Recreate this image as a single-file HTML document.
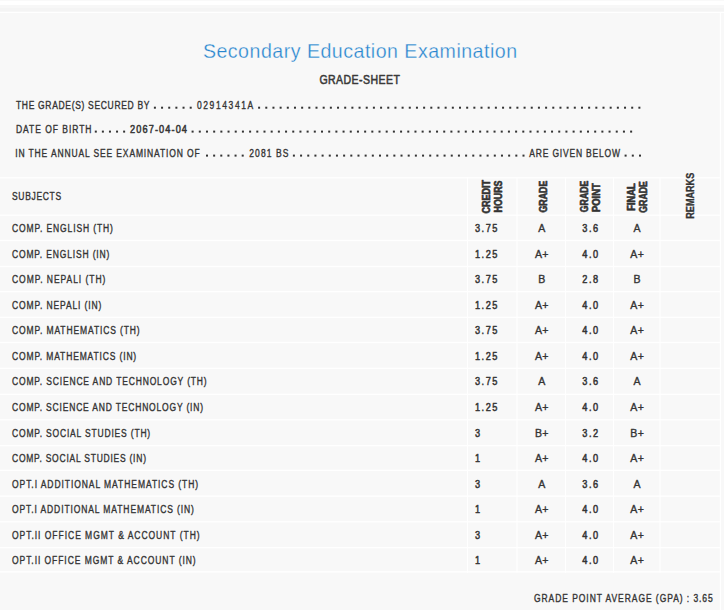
<!DOCTYPE html>
<html><head><meta charset="utf-8"><style>
html,body{margin:0;padding:0;background:#fff;}
body{width:724px;height:610px;overflow:hidden;position:relative;}
svg{position:absolute;left:0;top:0;display:block;}
text{font-family:"Liberation Sans",sans-serif;stroke-linejoin:round;}
.t{stroke:currentColor;}
</style></head><body>
<svg width="724" height="610" viewBox="0 0 724 610">
<rect x="0" y="0" width="724" height="610" fill="#ffffff"/>
<rect x="0" y="0" width="724" height="1" fill="#f9f9f9"/>
<rect x="0" y="5" width="724" height="7" fill="#f7f7f7"/>
<rect x="0" y="8" width="724" height="3" fill="#f4f4f4"/>
<rect x="0" y="13" width="724" height="597" fill="#f8f8f8"/>
<g fill="#ffffff"><rect x="0" y="177.15" width="721" height="1.3"/><rect x="0" y="214.55" width="721" height="1.3"/><rect x="0" y="239.85" width="721" height="1.3"/><rect x="0" y="265.85" width="721" height="1.3"/><rect x="0" y="290.95" width="721" height="1.3"/><rect x="0" y="316.65" width="721" height="1.3"/><rect x="0" y="341.85" width="721" height="1.3"/><rect x="0" y="367.65" width="721" height="1.3"/><rect x="0" y="393.65" width="721" height="1.3"/><rect x="0" y="419.15" width="721" height="1.3"/><rect x="0" y="444.95" width="721" height="1.3"/><rect x="0" y="469.65" width="721" height="1.3"/><rect x="0" y="495.45" width="721" height="1.3"/><rect x="0" y="521.15" width="721" height="1.3"/><rect x="0" y="546.95" width="721" height="1.3"/><rect x="0" y="571.25" width="721" height="1.3"/><rect x="719.8" y="12" width="1.2" height="598"/><rect x="467.10" y="177.1" width="1.0" height="395.80"/><rect x="516.50" y="177.1" width="1.0" height="395.80"/><rect x="565.00" y="177.1" width="1.0" height="395.80"/><rect x="613.00" y="177.1" width="1.0" height="395.80"/><rect x="659.50" y="177.1" width="1.0" height="395.80"/></g>
<g fill="#333333"><rect x="153.90" y="106.70" width="2.0" height="2.0"/><rect x="161.06" y="106.70" width="2.0" height="2.0"/><rect x="168.22" y="106.70" width="2.0" height="2.0"/><rect x="175.38" y="106.70" width="2.0" height="2.0"/><rect x="182.54" y="106.70" width="2.0" height="2.0"/><rect x="189.70" y="106.70" width="2.0" height="2.0"/><rect x="258.10" y="106.70" width="2.0" height="2.0"/><rect x="265.28" y="106.70" width="2.0" height="2.0"/><rect x="272.45" y="106.70" width="2.0" height="2.0"/><rect x="279.62" y="106.70" width="2.0" height="2.0"/><rect x="286.80" y="106.70" width="2.0" height="2.0"/><rect x="293.98" y="106.70" width="2.0" height="2.0"/><rect x="301.15" y="106.70" width="2.0" height="2.0"/><rect x="308.33" y="106.70" width="2.0" height="2.0"/><rect x="315.50" y="106.70" width="2.0" height="2.0"/><rect x="322.68" y="106.70" width="2.0" height="2.0"/><rect x="329.85" y="106.70" width="2.0" height="2.0"/><rect x="337.03" y="106.70" width="2.0" height="2.0"/><rect x="344.20" y="106.70" width="2.0" height="2.0"/><rect x="351.38" y="106.70" width="2.0" height="2.0"/><rect x="358.55" y="106.70" width="2.0" height="2.0"/><rect x="365.73" y="106.70" width="2.0" height="2.0"/><rect x="372.90" y="106.70" width="2.0" height="2.0"/><rect x="380.08" y="106.70" width="2.0" height="2.0"/><rect x="387.25" y="106.70" width="2.0" height="2.0"/><rect x="394.43" y="106.70" width="2.0" height="2.0"/><rect x="401.60" y="106.70" width="2.0" height="2.0"/><rect x="408.77" y="106.70" width="2.0" height="2.0"/><rect x="415.95" y="106.70" width="2.0" height="2.0"/><rect x="423.12" y="106.70" width="2.0" height="2.0"/><rect x="430.30" y="106.70" width="2.0" height="2.0"/><rect x="437.48" y="106.70" width="2.0" height="2.0"/><rect x="444.65" y="106.70" width="2.0" height="2.0"/><rect x="451.83" y="106.70" width="2.0" height="2.0"/><rect x="459.00" y="106.70" width="2.0" height="2.0"/><rect x="466.18" y="106.70" width="2.0" height="2.0"/><rect x="473.35" y="106.70" width="2.0" height="2.0"/><rect x="480.52" y="106.70" width="2.0" height="2.0"/><rect x="487.70" y="106.70" width="2.0" height="2.0"/><rect x="494.88" y="106.70" width="2.0" height="2.0"/><rect x="502.05" y="106.70" width="2.0" height="2.0"/><rect x="509.23" y="106.70" width="2.0" height="2.0"/><rect x="516.40" y="106.70" width="2.0" height="2.0"/><rect x="523.58" y="106.70" width="2.0" height="2.0"/><rect x="530.75" y="106.70" width="2.0" height="2.0"/><rect x="537.92" y="106.70" width="2.0" height="2.0"/><rect x="545.10" y="106.70" width="2.0" height="2.0"/><rect x="552.28" y="106.70" width="2.0" height="2.0"/><rect x="559.45" y="106.70" width="2.0" height="2.0"/><rect x="566.62" y="106.70" width="2.0" height="2.0"/><rect x="573.80" y="106.70" width="2.0" height="2.0"/><rect x="580.98" y="106.70" width="2.0" height="2.0"/><rect x="588.15" y="106.70" width="2.0" height="2.0"/><rect x="595.33" y="106.70" width="2.0" height="2.0"/><rect x="602.50" y="106.70" width="2.0" height="2.0"/><rect x="609.67" y="106.70" width="2.0" height="2.0"/><rect x="616.85" y="106.70" width="2.0" height="2.0"/><rect x="624.03" y="106.70" width="2.0" height="2.0"/><rect x="631.20" y="106.70" width="2.0" height="2.0"/><rect x="638.38" y="106.70" width="2.0" height="2.0"/><rect x="94.80" y="130.60" width="2.0" height="2.0"/><rect x="101.88" y="130.60" width="2.0" height="2.0"/><rect x="108.96" y="130.60" width="2.0" height="2.0"/><rect x="116.04" y="130.60" width="2.0" height="2.0"/><rect x="123.12" y="130.60" width="2.0" height="2.0"/><rect x="191.60" y="130.60" width="2.0" height="2.0"/><rect x="198.79" y="130.60" width="2.0" height="2.0"/><rect x="205.98" y="130.60" width="2.0" height="2.0"/><rect x="213.17" y="130.60" width="2.0" height="2.0"/><rect x="220.36" y="130.60" width="2.0" height="2.0"/><rect x="227.54" y="130.60" width="2.0" height="2.0"/><rect x="234.73" y="130.60" width="2.0" height="2.0"/><rect x="241.92" y="130.60" width="2.0" height="2.0"/><rect x="249.11" y="130.60" width="2.0" height="2.0"/><rect x="256.30" y="130.60" width="2.0" height="2.0"/><rect x="263.49" y="130.60" width="2.0" height="2.0"/><rect x="270.68" y="130.60" width="2.0" height="2.0"/><rect x="277.87" y="130.60" width="2.0" height="2.0"/><rect x="285.06" y="130.60" width="2.0" height="2.0"/><rect x="292.25" y="130.60" width="2.0" height="2.0"/><rect x="299.44" y="130.60" width="2.0" height="2.0"/><rect x="306.62" y="130.60" width="2.0" height="2.0"/><rect x="313.81" y="130.60" width="2.0" height="2.0"/><rect x="321.00" y="130.60" width="2.0" height="2.0"/><rect x="328.19" y="130.60" width="2.0" height="2.0"/><rect x="335.38" y="130.60" width="2.0" height="2.0"/><rect x="342.57" y="130.60" width="2.0" height="2.0"/><rect x="349.76" y="130.60" width="2.0" height="2.0"/><rect x="356.95" y="130.60" width="2.0" height="2.0"/><rect x="364.14" y="130.60" width="2.0" height="2.0"/><rect x="371.32" y="130.60" width="2.0" height="2.0"/><rect x="378.51" y="130.60" width="2.0" height="2.0"/><rect x="385.70" y="130.60" width="2.0" height="2.0"/><rect x="392.89" y="130.60" width="2.0" height="2.0"/><rect x="400.08" y="130.60" width="2.0" height="2.0"/><rect x="407.27" y="130.60" width="2.0" height="2.0"/><rect x="414.46" y="130.60" width="2.0" height="2.0"/><rect x="421.65" y="130.60" width="2.0" height="2.0"/><rect x="428.84" y="130.60" width="2.0" height="2.0"/><rect x="436.03" y="130.60" width="2.0" height="2.0"/><rect x="443.22" y="130.60" width="2.0" height="2.0"/><rect x="450.40" y="130.60" width="2.0" height="2.0"/><rect x="457.59" y="130.60" width="2.0" height="2.0"/><rect x="464.78" y="130.60" width="2.0" height="2.0"/><rect x="471.97" y="130.60" width="2.0" height="2.0"/><rect x="479.16" y="130.60" width="2.0" height="2.0"/><rect x="486.35" y="130.60" width="2.0" height="2.0"/><rect x="493.54" y="130.60" width="2.0" height="2.0"/><rect x="500.73" y="130.60" width="2.0" height="2.0"/><rect x="507.92" y="130.60" width="2.0" height="2.0"/><rect x="515.11" y="130.60" width="2.0" height="2.0"/><rect x="522.29" y="130.60" width="2.0" height="2.0"/><rect x="529.48" y="130.60" width="2.0" height="2.0"/><rect x="536.67" y="130.60" width="2.0" height="2.0"/><rect x="543.86" y="130.60" width="2.0" height="2.0"/><rect x="551.05" y="130.60" width="2.0" height="2.0"/><rect x="558.24" y="130.60" width="2.0" height="2.0"/><rect x="565.43" y="130.60" width="2.0" height="2.0"/><rect x="572.62" y="130.60" width="2.0" height="2.0"/><rect x="579.81" y="130.60" width="2.0" height="2.0"/><rect x="587.00" y="130.60" width="2.0" height="2.0"/><rect x="594.18" y="130.60" width="2.0" height="2.0"/><rect x="601.37" y="130.60" width="2.0" height="2.0"/><rect x="608.56" y="130.60" width="2.0" height="2.0"/><rect x="615.75" y="130.60" width="2.0" height="2.0"/><rect x="622.94" y="130.60" width="2.0" height="2.0"/><rect x="630.13" y="130.60" width="2.0" height="2.0"/><rect x="206.00" y="154.60" width="2.0" height="2.0"/><rect x="213.14" y="154.60" width="2.0" height="2.0"/><rect x="220.28" y="154.60" width="2.0" height="2.0"/><rect x="227.42" y="154.60" width="2.0" height="2.0"/><rect x="234.56" y="154.60" width="2.0" height="2.0"/><rect x="241.70" y="154.60" width="2.0" height="2.0"/><rect x="292.90" y="154.60" width="2.0" height="2.0"/><rect x="300.07" y="154.60" width="2.0" height="2.0"/><rect x="307.25" y="154.60" width="2.0" height="2.0"/><rect x="314.42" y="154.60" width="2.0" height="2.0"/><rect x="321.60" y="154.60" width="2.0" height="2.0"/><rect x="328.77" y="154.60" width="2.0" height="2.0"/><rect x="335.95" y="154.60" width="2.0" height="2.0"/><rect x="343.12" y="154.60" width="2.0" height="2.0"/><rect x="350.30" y="154.60" width="2.0" height="2.0"/><rect x="357.47" y="154.60" width="2.0" height="2.0"/><rect x="364.65" y="154.60" width="2.0" height="2.0"/><rect x="371.82" y="154.60" width="2.0" height="2.0"/><rect x="379.00" y="154.60" width="2.0" height="2.0"/><rect x="386.17" y="154.60" width="2.0" height="2.0"/><rect x="393.35" y="154.60" width="2.0" height="2.0"/><rect x="400.52" y="154.60" width="2.0" height="2.0"/><rect x="407.70" y="154.60" width="2.0" height="2.0"/><rect x="414.88" y="154.60" width="2.0" height="2.0"/><rect x="422.05" y="154.60" width="2.0" height="2.0"/><rect x="429.22" y="154.60" width="2.0" height="2.0"/><rect x="436.40" y="154.60" width="2.0" height="2.0"/><rect x="443.57" y="154.60" width="2.0" height="2.0"/><rect x="450.75" y="154.60" width="2.0" height="2.0"/><rect x="457.92" y="154.60" width="2.0" height="2.0"/><rect x="465.10" y="154.60" width="2.0" height="2.0"/><rect x="472.27" y="154.60" width="2.0" height="2.0"/><rect x="479.45" y="154.60" width="2.0" height="2.0"/><rect x="486.62" y="154.60" width="2.0" height="2.0"/><rect x="493.80" y="154.60" width="2.0" height="2.0"/><rect x="500.97" y="154.60" width="2.0" height="2.0"/><rect x="508.15" y="154.60" width="2.0" height="2.0"/><rect x="515.32" y="154.60" width="2.0" height="2.0"/><rect x="522.50" y="154.60" width="2.0" height="2.0"/><rect x="624.60" y="154.60" width="2.0" height="2.0"/><rect x="631.80" y="154.60" width="2.0" height="2.0"/><rect x="639.00" y="154.60" width="2.0" height="2.0"/></g>
<text transform="translate(202.90 57.90) scale(0.98 1)" letter-spacing="0.496" font-size="20" font-weight="normal" fill="#2886cf" stroke="#f8f8f8" stroke-width="0.3">Secondary Education Examination</text>
<text transform="translate(319.40 83.90) scale(0.78 1)" letter-spacing="0.581" font-size="13.5" font-weight="normal" fill="#3a3a3a" stroke="#3a3a3a" stroke-width="0.6">GRADE-SHEET</text>
<text transform="translate(15.95 109.00) scale(0.74 1)" letter-spacing="0.917" font-size="11.5" font-weight="normal" fill="#353535" stroke="#353535" stroke-width="0.4">THE GRADE(S) SECURED BY</text>
<text transform="translate(196.90 109.00) scale(0.74 1)" letter-spacing="2.165" font-size="11.5" font-weight="normal" fill="#353535" stroke="#353535" stroke-width="0.4">02914341A</text>
<text transform="translate(15.95 132.90) scale(0.74 1)" letter-spacing="1.305" font-size="11.5" font-weight="normal" fill="#353535" stroke="#353535" stroke-width="0.4">DATE OF BIRTH</text>
<text transform="translate(130.10 132.90) scale(0.8 1)" letter-spacing="1.369" font-size="11.5" font-weight="normal" fill="#353535" stroke="#353535" stroke-width="0.55">2067-04-04</text>
<text transform="translate(15.21 156.90) scale(0.74 1)" letter-spacing="1.168" font-size="11.5" font-weight="normal" fill="#353535" stroke="#353535" stroke-width="0.4">IN THE ANNUAL SEE EXAMINATION OF</text>
<text transform="translate(249.30 156.90) scale(0.74 1)" letter-spacing="1.443" font-size="11.5" font-weight="normal" fill="#353535" stroke="#353535" stroke-width="0.4">2081 BS</text>
<text transform="translate(529.30 156.90) scale(0.74 1)" letter-spacing="1.095" font-size="11.5" font-weight="normal" fill="#353535" stroke="#353535" stroke-width="0.4">ARE GIVEN BELOW</text>
<text transform="translate(12.00 199.90) scale(0.74 1)" letter-spacing="0.909" font-size="11.5" font-weight="normal" fill="#353535" stroke="#353535" stroke-width="0.4">SUBJECTS</text>
<text transform="translate(489.80 213.50) rotate(-90)" x="0" y="0" textLength="33.60" lengthAdjust="spacingAndGlyphs" font-size="10.5" font-weight="bold" fill="#333" stroke="#333" stroke-width="0.6">CREDIT</text>
<text transform="translate(501.90 212.50) rotate(-90)" x="0" y="0" textLength="32.00" lengthAdjust="spacingAndGlyphs" font-size="10.5" font-weight="bold" fill="#333" stroke="#333" stroke-width="0.6">HOURS</text>
<text transform="translate(546.50 212.50) rotate(-90)" x="0" y="0" textLength="31.80" lengthAdjust="spacingAndGlyphs" font-size="10.5" font-weight="bold" fill="#333" stroke="#333" stroke-width="0.6">GRADE</text>
<text transform="translate(588.20 212.20) rotate(-90)" x="0" y="0" textLength="31.50" lengthAdjust="spacingAndGlyphs" font-size="10.5" font-weight="bold" fill="#333" stroke="#333" stroke-width="0.6">GRADE</text>
<text transform="translate(600.10 212.00) rotate(-90)" x="0" y="0" textLength="28.77" lengthAdjust="spacingAndGlyphs" font-size="10.5" font-weight="bold" fill="#333" stroke="#333" stroke-width="0.6">POINT</text>
<text transform="translate(634.75 210.75) rotate(-90)" x="0" y="0" textLength="27.33" lengthAdjust="spacingAndGlyphs" font-size="10.5" font-weight="bold" fill="#333" stroke="#333" stroke-width="0.6">FINAL</text>
<text transform="translate(646.90 212.70) rotate(-90)" x="0" y="0" textLength="31.50" lengthAdjust="spacingAndGlyphs" font-size="10.5" font-weight="bold" fill="#333" stroke="#333" stroke-width="0.6">GRADE</text>
<text transform="translate(693.80 218.70) rotate(-90)" x="0" y="0" textLength="45.90" lengthAdjust="spacingAndGlyphs" font-size="10.5" font-weight="bold" fill="#333" stroke="#333" stroke-width="0.35">REMARKS</text>
<text transform="translate(12.00 232.10) scale(0.74 1)" letter-spacing="1.198" font-size="11.5" font-weight="normal" fill="#353535" stroke="#353535" stroke-width="0.4">COMP. ENGLISH (TH)</text>
<text transform="translate(475.00 232.10) scale(0.8 1)" letter-spacing="1.879" font-size="11.5" font-weight="normal" fill="#353535" stroke="#353535" stroke-width="0.55">3.75</text>
<text transform="translate(538.22 232.10) scale(0.92 1)" letter-spacing="0.330" font-size="11.5" font-weight="normal" fill="#353535" stroke="#353535" stroke-width="0.4">A</text>
<text transform="translate(582.26 232.10) scale(0.8 1)" letter-spacing="1.879" font-size="11.5" font-weight="normal" fill="#353535" stroke="#353535" stroke-width="0.55">3.6</text>
<text transform="translate(633.52 232.10) scale(0.92 1)" letter-spacing="0.330" font-size="11.5" font-weight="normal" fill="#353535" stroke="#353535" stroke-width="0.4">A</text>
<text transform="translate(12.00 257.65) scale(0.74 1)" letter-spacing="1.138" font-size="11.5" font-weight="normal" fill="#353535" stroke="#353535" stroke-width="0.4">COMP. ENGLISH (IN)</text>
<text transform="translate(475.00 257.65) scale(0.8 1)" letter-spacing="1.879" font-size="11.5" font-weight="normal" fill="#353535" stroke="#353535" stroke-width="0.55">1.25</text>
<text transform="translate(535.00 257.65) scale(0.92 1)" letter-spacing="0.330" font-size="11.5" font-weight="normal" fill="#353535" stroke="#353535" stroke-width="0.4">A+</text>
<text transform="translate(582.26 257.65) scale(0.8 1)" letter-spacing="1.879" font-size="11.5" font-weight="normal" fill="#353535" stroke="#353535" stroke-width="0.55">4.0</text>
<text transform="translate(630.30 257.65) scale(0.92 1)" letter-spacing="0.330" font-size="11.5" font-weight="normal" fill="#353535" stroke="#353535" stroke-width="0.4">A+</text>
<text transform="translate(12.00 283.20) scale(0.74 1)" letter-spacing="1.283" font-size="11.5" font-weight="normal" fill="#353535" stroke="#353535" stroke-width="0.4">COMP. NEPALI (TH)</text>
<text transform="translate(475.00 283.20) scale(0.8 1)" letter-spacing="1.879" font-size="11.5" font-weight="normal" fill="#353535" stroke="#353535" stroke-width="0.55">3.75</text>
<text transform="translate(538.22 283.20) scale(0.92 1)" letter-spacing="0.330" font-size="11.5" font-weight="normal" fill="#353535" stroke="#353535" stroke-width="0.4">B</text>
<text transform="translate(582.26 283.20) scale(0.8 1)" letter-spacing="1.879" font-size="11.5" font-weight="normal" fill="#353535" stroke="#353535" stroke-width="0.55">2.8</text>
<text transform="translate(633.52 283.20) scale(0.92 1)" letter-spacing="0.330" font-size="11.5" font-weight="normal" fill="#353535" stroke="#353535" stroke-width="0.4">B</text>
<text transform="translate(12.00 308.75) scale(0.74 1)" letter-spacing="1.193" font-size="11.5" font-weight="normal" fill="#353535" stroke="#353535" stroke-width="0.4">COMP. NEPALI (IN)</text>
<text transform="translate(475.00 308.75) scale(0.8 1)" letter-spacing="1.879" font-size="11.5" font-weight="normal" fill="#353535" stroke="#353535" stroke-width="0.55">1.25</text>
<text transform="translate(535.00 308.75) scale(0.92 1)" letter-spacing="0.330" font-size="11.5" font-weight="normal" fill="#353535" stroke="#353535" stroke-width="0.4">A+</text>
<text transform="translate(582.26 308.75) scale(0.8 1)" letter-spacing="1.879" font-size="11.5" font-weight="normal" fill="#353535" stroke="#353535" stroke-width="0.55">4.0</text>
<text transform="translate(630.30 308.75) scale(0.92 1)" letter-spacing="0.330" font-size="11.5" font-weight="normal" fill="#353535" stroke="#353535" stroke-width="0.4">A+</text>
<text transform="translate(12.00 334.30) scale(0.74 1)" letter-spacing="1.195" font-size="11.5" font-weight="normal" fill="#353535" stroke="#353535" stroke-width="0.4">COMP. MATHEMATICS (TH)</text>
<text transform="translate(475.00 334.30) scale(0.8 1)" letter-spacing="1.879" font-size="11.5" font-weight="normal" fill="#353535" stroke="#353535" stroke-width="0.55">3.75</text>
<text transform="translate(535.00 334.30) scale(0.92 1)" letter-spacing="0.330" font-size="11.5" font-weight="normal" fill="#353535" stroke="#353535" stroke-width="0.4">A+</text>
<text transform="translate(582.26 334.30) scale(0.8 1)" letter-spacing="1.879" font-size="11.5" font-weight="normal" fill="#353535" stroke="#353535" stroke-width="0.55">4.0</text>
<text transform="translate(630.30 334.30) scale(0.92 1)" letter-spacing="0.330" font-size="11.5" font-weight="normal" fill="#353535" stroke="#353535" stroke-width="0.4">A+</text>
<text transform="translate(12.00 359.85) scale(0.74 1)" letter-spacing="1.152" font-size="11.5" font-weight="normal" fill="#353535" stroke="#353535" stroke-width="0.4">COMP. MATHEMATICS (IN)</text>
<text transform="translate(475.00 359.85) scale(0.8 1)" letter-spacing="1.879" font-size="11.5" font-weight="normal" fill="#353535" stroke="#353535" stroke-width="0.55">1.25</text>
<text transform="translate(535.00 359.85) scale(0.92 1)" letter-spacing="0.330" font-size="11.5" font-weight="normal" fill="#353535" stroke="#353535" stroke-width="0.4">A+</text>
<text transform="translate(582.26 359.85) scale(0.8 1)" letter-spacing="1.879" font-size="11.5" font-weight="normal" fill="#353535" stroke="#353535" stroke-width="0.55">4.0</text>
<text transform="translate(630.30 359.85) scale(0.92 1)" letter-spacing="0.330" font-size="11.5" font-weight="normal" fill="#353535" stroke="#353535" stroke-width="0.4">A+</text>
<text transform="translate(12.00 385.40) scale(0.74 1)" letter-spacing="1.137" font-size="11.5" font-weight="normal" fill="#353535" stroke="#353535" stroke-width="0.4">COMP. SCIENCE AND TECHNOLOGY (TH)</text>
<text transform="translate(475.00 385.40) scale(0.8 1)" letter-spacing="1.879" font-size="11.5" font-weight="normal" fill="#353535" stroke="#353535" stroke-width="0.55">3.75</text>
<text transform="translate(538.22 385.40) scale(0.92 1)" letter-spacing="0.330" font-size="11.5" font-weight="normal" fill="#353535" stroke="#353535" stroke-width="0.4">A</text>
<text transform="translate(582.26 385.40) scale(0.8 1)" letter-spacing="1.879" font-size="11.5" font-weight="normal" fill="#353535" stroke="#353535" stroke-width="0.55">3.6</text>
<text transform="translate(633.52 385.40) scale(0.92 1)" letter-spacing="0.330" font-size="11.5" font-weight="normal" fill="#353535" stroke="#353535" stroke-width="0.4">A</text>
<text transform="translate(12.00 410.95) scale(0.74 1)" letter-spacing="1.105" font-size="11.5" font-weight="normal" fill="#353535" stroke="#353535" stroke-width="0.4">COMP. SCIENCE AND TECHNOLOGY (IN)</text>
<text transform="translate(475.00 410.95) scale(0.8 1)" letter-spacing="1.879" font-size="11.5" font-weight="normal" fill="#353535" stroke="#353535" stroke-width="0.55">1.25</text>
<text transform="translate(535.00 410.95) scale(0.92 1)" letter-spacing="0.330" font-size="11.5" font-weight="normal" fill="#353535" stroke="#353535" stroke-width="0.4">A+</text>
<text transform="translate(582.26 410.95) scale(0.8 1)" letter-spacing="1.879" font-size="11.5" font-weight="normal" fill="#353535" stroke="#353535" stroke-width="0.55">4.0</text>
<text transform="translate(630.30 410.95) scale(0.92 1)" letter-spacing="0.330" font-size="11.5" font-weight="normal" fill="#353535" stroke="#353535" stroke-width="0.4">A+</text>
<text transform="translate(12.00 436.50) scale(0.74 1)" letter-spacing="1.102" font-size="11.5" font-weight="normal" fill="#353535" stroke="#353535" stroke-width="0.4">COMP. SOCIAL STUDIES (TH)</text>
<text transform="translate(475.00 436.50) scale(0.8 1)" letter-spacing="1.879" font-size="11.5" font-weight="normal" fill="#353535" stroke="#353535" stroke-width="0.55">3</text>
<text transform="translate(535.00 436.50) scale(0.92 1)" letter-spacing="0.330" font-size="11.5" font-weight="normal" fill="#353535" stroke="#353535" stroke-width="0.4">B+</text>
<text transform="translate(582.26 436.50) scale(0.8 1)" letter-spacing="1.879" font-size="11.5" font-weight="normal" fill="#353535" stroke="#353535" stroke-width="0.55">3.2</text>
<text transform="translate(630.30 436.50) scale(0.92 1)" letter-spacing="0.330" font-size="11.5" font-weight="normal" fill="#353535" stroke="#353535" stroke-width="0.4">B+</text>
<text transform="translate(12.00 462.05) scale(0.74 1)" letter-spacing="1.025" font-size="11.5" font-weight="normal" fill="#353535" stroke="#353535" stroke-width="0.4">COMP. SOCIAL STUDIES (IN)</text>
<text transform="translate(475.00 462.05) scale(0.8 1)" letter-spacing="1.879" font-size="11.5" font-weight="normal" fill="#353535" stroke="#353535" stroke-width="0.55">1</text>
<text transform="translate(535.00 462.05) scale(0.92 1)" letter-spacing="0.330" font-size="11.5" font-weight="normal" fill="#353535" stroke="#353535" stroke-width="0.4">A+</text>
<text transform="translate(582.26 462.05) scale(0.8 1)" letter-spacing="1.879" font-size="11.5" font-weight="normal" fill="#353535" stroke="#353535" stroke-width="0.55">4.0</text>
<text transform="translate(630.30 462.05) scale(0.92 1)" letter-spacing="0.330" font-size="11.5" font-weight="normal" fill="#353535" stroke="#353535" stroke-width="0.4">A+</text>
<text transform="translate(12.00 487.60) scale(0.74 1)" letter-spacing="1.261" font-size="11.5" font-weight="normal" fill="#353535" stroke="#353535" stroke-width="0.4">OPT.I ADDITIONAL MATHEMATICS (TH)</text>
<text transform="translate(475.00 487.60) scale(0.8 1)" letter-spacing="1.879" font-size="11.5" font-weight="normal" fill="#353535" stroke="#353535" stroke-width="0.55">3</text>
<text transform="translate(538.22 487.60) scale(0.92 1)" letter-spacing="0.330" font-size="11.5" font-weight="normal" fill="#353535" stroke="#353535" stroke-width="0.4">A</text>
<text transform="translate(582.26 487.60) scale(0.8 1)" letter-spacing="1.879" font-size="11.5" font-weight="normal" fill="#353535" stroke="#353535" stroke-width="0.55">3.6</text>
<text transform="translate(633.52 487.60) scale(0.92 1)" letter-spacing="0.330" font-size="11.5" font-weight="normal" fill="#353535" stroke="#353535" stroke-width="0.4">A</text>
<text transform="translate(12.00 513.15) scale(0.74 1)" letter-spacing="1.203" font-size="11.5" font-weight="normal" fill="#353535" stroke="#353535" stroke-width="0.4">OPT.I ADDITIONAL MATHEMATICS (IN)</text>
<text transform="translate(475.00 513.15) scale(0.8 1)" letter-spacing="1.879" font-size="11.5" font-weight="normal" fill="#353535" stroke="#353535" stroke-width="0.55">1</text>
<text transform="translate(535.00 513.15) scale(0.92 1)" letter-spacing="0.330" font-size="11.5" font-weight="normal" fill="#353535" stroke="#353535" stroke-width="0.4">A+</text>
<text transform="translate(582.26 513.15) scale(0.8 1)" letter-spacing="1.879" font-size="11.5" font-weight="normal" fill="#353535" stroke="#353535" stroke-width="0.55">4.0</text>
<text transform="translate(630.30 513.15) scale(0.92 1)" letter-spacing="0.330" font-size="11.5" font-weight="normal" fill="#353535" stroke="#353535" stroke-width="0.4">A+</text>
<text transform="translate(12.00 538.70) scale(0.74 1)" letter-spacing="1.311" font-size="11.5" font-weight="normal" fill="#353535" stroke="#353535" stroke-width="0.4">OPT.II OFFICE MGMT &amp; ACCOUNT (TH)</text>
<text transform="translate(475.00 538.70) scale(0.8 1)" letter-spacing="1.879" font-size="11.5" font-weight="normal" fill="#353535" stroke="#353535" stroke-width="0.55">3</text>
<text transform="translate(535.00 538.70) scale(0.92 1)" letter-spacing="0.330" font-size="11.5" font-weight="normal" fill="#353535" stroke="#353535" stroke-width="0.4">A+</text>
<text transform="translate(582.26 538.70) scale(0.8 1)" letter-spacing="1.879" font-size="11.5" font-weight="normal" fill="#353535" stroke="#353535" stroke-width="0.55">4.0</text>
<text transform="translate(630.30 538.70) scale(0.92 1)" letter-spacing="0.330" font-size="11.5" font-weight="normal" fill="#353535" stroke="#353535" stroke-width="0.4">A+</text>
<text transform="translate(12.00 564.25) scale(0.74 1)" letter-spacing="1.266" font-size="11.5" font-weight="normal" fill="#353535" stroke="#353535" stroke-width="0.4">OPT.II OFFICE MGMT &amp; ACCOUNT (IN)</text>
<text transform="translate(475.00 564.25) scale(0.8 1)" letter-spacing="1.879" font-size="11.5" font-weight="normal" fill="#353535" stroke="#353535" stroke-width="0.55">1</text>
<text transform="translate(535.00 564.25) scale(0.92 1)" letter-spacing="0.330" font-size="11.5" font-weight="normal" fill="#353535" stroke="#353535" stroke-width="0.4">A+</text>
<text transform="translate(582.26 564.25) scale(0.8 1)" letter-spacing="1.879" font-size="11.5" font-weight="normal" fill="#353535" stroke="#353535" stroke-width="0.55">4.0</text>
<text transform="translate(630.30 564.25) scale(0.92 1)" letter-spacing="0.330" font-size="11.5" font-weight="normal" fill="#353535" stroke="#353535" stroke-width="0.4">A+</text>
<text transform="translate(534.00 602.00) scale(0.74 1)" letter-spacing="1.262" font-size="11.5" font-weight="normal" fill="#353535" stroke="#353535" stroke-width="0.4">GRADE POINT AVERAGE (GPA) : 3.65</text>
</svg>
</body></html>
